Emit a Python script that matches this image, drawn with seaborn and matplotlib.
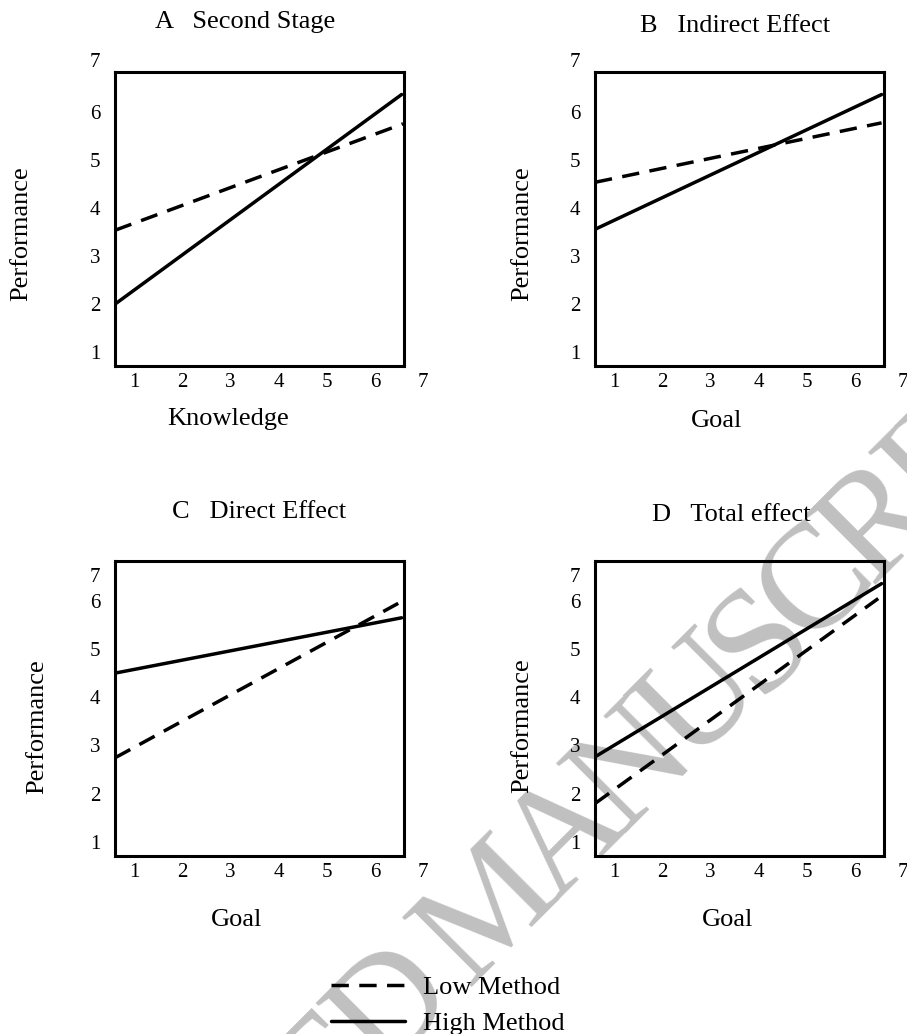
import math
import matplotlib
matplotlib.use("Agg")
import matplotlib.pyplot as plt
import seaborn as sns
import pandas as pd

sns.set_theme(style="white")
plt.rcParams["font.family"] = ["Liberation Serif", "DejaVu Serif"]
plt.rcParams["text.color"] = "black"

# ---------------- data ----------------
titles = ["A   Second Stage", "B   Indirect Effect", "C   Direct Effect", "D   Total effect"]
xlabels = ["Knowledge", "Goal", "Goal", "Goal"]
ylabel = "Performance"
methods = ["Low Method", "High Method"]

x_start = [0.6, 0.6, 0.6, 0.6]
low_x_end = [6.58, 6.55, 6.48, 6.48]
high_x_end = [6.55, 6.55, 6.55, 6.55]
low_y_start = [3.54, 4.54, 2.75, 1.80]
low_y_end = [5.76, 5.78, 5.96, 6.06]
high_y_start = [2.00, 3.56, 4.51, 2.77]
high_y_end = [6.37, 6.37, 5.66, 6.37]

tick_labels = ["1", "2", "3", "4", "5", "6", "7"]
xtick_pos = [1, 2, 3, 4, 5, 6, 7]
ytick_pos_top = [1, 2, 3, 4, 5, 6, 7.08]
ytick_pos_bottom = [1, 2, 3, 4, 5, 6, 6.55]

watermark = "ACCEPTED MANUSCRIPT"

# ---------------- layout ----------------
W, H = 907, 1034
fig = plt.figure(figsize=(W / 100, H / 100), dpi=100)


def px(x, y):
    return x / W, 1 - y / H


boxes = [(115, 72, 404, 366), (595, 72, 884, 366), (115, 561, 404, 856), (595, 561, 884, 856)]
title_pos = [(155, 28), (640, 32), (172, 518), (652, 521)]
ylabel_pos = [(21, 234), (522, 234), (37, 727), (522, 726)]
xlabel_pos = [(228, 425), (717, 427), (237, 926), (728, 926)]

FS_TXT = 19
FS_TICK = 15
LW = 2.5

handles = labels = None
for i in range(4):
    l, t, r, b = boxes[i]
    ax = fig.add_axes([l / W, 1 - b / H, (r - l) / W, (b - t) / H])
    ax.set_facecolor("none")
    df = pd.DataFrame({
        "x": [x_start[i], low_x_end[i], x_start[i], high_x_end[i]],
        "y": [low_y_start[i], low_y_end[i], high_y_start[i], high_y_end[i]],
        "method": [methods[0], methods[0], methods[1], methods[1]],
    })
    sns.lineplot(data=df, x="x", y="y", style="method", style_order=methods,
                 dashes={methods[0]: (5, 3), methods[1]: ""}, color="black",
                 linewidth=LW, estimator=None, sort=False, ax=ax, legend=(i == 0))
    if i == 0:
        handles, labels = ax.get_legend_handles_labels()
        ax.get_legend().remove()
    ax.set_xlim(0.6, 6.6)
    ax.set_ylim(0.71, 6.84)
    ax.set_xticks([])
    ax.set_yticks([])
    ax.set_xlabel("")
    ax.set_ylabel("")
    for s in ax.spines.values():
        s.set_visible(True)
        s.set_color("black")
        s.set_linewidth(2.2)
    ypos = ytick_pos_top if i < 2 else ytick_pos_bottom
    for lab, yv in zip(tick_labels, ypos):
        ax.annotate(lab, xy=(0, yv), xycoords=("axes fraction", "data"),
                    xytext=(-10.5, -1.5), textcoords="offset points", color="black",
                    ha="right", va="center", fontsize=FS_TICK, annotation_clip=False)
    for lab, xv in zip(tick_labels, xtick_pos):
        ax.annotate(lab, xy=(xv, 0), xycoords=("data", "axes fraction"),
                    xytext=(0, -5), textcoords="offset points", color="black",
                    ha="center", va="top", fontsize=FS_TICK, annotation_clip=False)
    fig.text(*px(*title_pos[i]), titles[i], ha="left", va="baseline", fontsize=FS_TXT, color="black")
    fig.text(*px(*ylabel_pos[i]), ylabel, rotation=90, ha="center", va="center",
             fontsize=FS_TXT, color="black")
    fig.text(*px(*xlabel_pos[i]), xlabels[i], ha="center", va="baseline", fontsize=FS_TXT, color="black")

for h in handles:
    h.set_linewidth(LW)
    h.set_color("black")
leg = fig.legend(handles, labels, loc="upper left", bbox_to_anchor=px(331, 976),
                 frameon=False, fontsize=FS_TXT, handlelength=2.8, handletextpad=0.68,
                 labelspacing=0.45, borderpad=0, borderaxespad=0)
for txt in leg.get_texts():
    txt.set_color("black")

# ---------------- watermark (letter by letter, slightly tight tracking) ----------------
adv = {"A": .722, "C": .667, "E": .611, "P": .556, "T": .611, "D": .722, "M": .889,
       "N": .722, "U": .722, "S": .556, "R": .667, "I": .333, " ": .25}
WM_FS = 108
em = WM_FS * 100 / 72
track = 0.08
ang = 45.0
th = math.radians(ang)
u = (math.cos(th), -math.sin(th))
v = (-math.sin(th), -math.cos(th))
ref_idx = watermark.index("M")
ref_center = (480, 905)
s = [0.0] * len(watermark)
for k in range(ref_idx + 1, len(watermark)):
    s[k] = s[k - 1] + ((adv[watermark[k - 1]] + adv[watermark[k]]) / 2 - track) * em
for k in range(ref_idx - 1, -1, -1):
    s[k] = s[k + 1] - ((adv[watermark[k + 1]] + adv[watermark[k]]) / 2 - track) * em
for k, ch in enumerate(watermark):
    if ch == " ":
        continue
    cx = ref_center[0] + s[k] * u[0]
    cy = ref_center[1] + s[k] * u[1]
    # only letters that can show on the canvas
    if cx < -0.5 * em or cx > W + 0.5 * em or cy < -0.5 * em or cy > H + 0.5 * em:
        continue
    bx = cx - 0.331 * em * v[0]
    by = cy - 0.331 * em * v[1]
    fig.text(*px(bx, by), ch, rotation=ang, rotation_mode="anchor", ha="center",
             va="baseline", fontsize=WM_FS, color="#c0c0c0",
             family=["Liberation Serif", "DejaVu Serif"], zorder=-10)

fig.savefig("out.png", dpi=100)
